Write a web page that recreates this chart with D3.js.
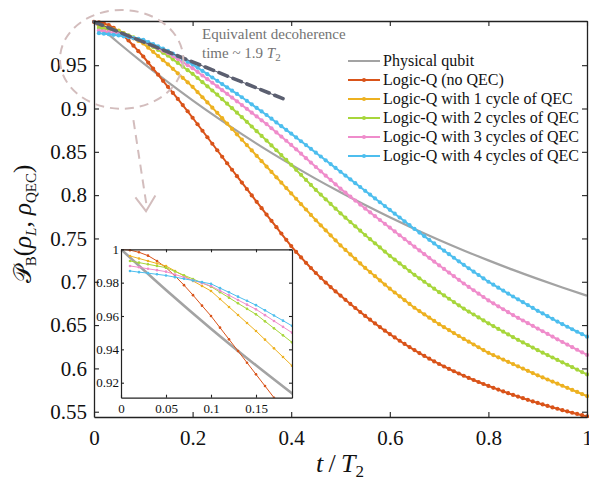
<!DOCTYPE html>
<html><head><meta charset="utf-8">
<script src="https://cdn.jsdelivr.net/npm/d3@7"></script>
<style>
body{margin:0;background:#fff}
svg{display:block}
svg text{font-family:"Liberation Serif","Times New Roman","Nimbus Roman","DejaVu Serif",serif !important}
svg text tspan.scr{font-family:"DejaVu Serif","DejaVu Sans",serif !important}
</style>
</head><body>
<svg id="c" width="589" height="481"></svg>
<script>
// ---------- data ----------
const seriesNames = ["Physical qubit","Logic-Q (no QEC)","Logic-Q with 1 cycle of QEC","Logic-Q with 2 cycles of QEC","Logic-Q with 3 cycles of QEC","Logic-Q with 4 cycles of QEC"];
const seriesColors = ["#a3a3a3","#d95319","#edb120","#a7d63b","#ef8ccb","#4dbeee"];
const xTicks = [0,0.2,0.4,0.6,0.8,1];
const yTicks = [0.55,0.6,0.65,0.7,0.75,0.8,0.85,0.9,0.95];
const insetXTicks = [0,0.05,0.1,0.15];
const insetYTicks = [0.92,0.94,0.96,0.98,1];

const tGray = [0,0.05,0.1,0.15,0.2,0.25,0.3,0.35,0.4,0.45,0.5,0.55,0.6,0.65,0.7,0.75,0.8,0.85,0.9,0.95,1];
const physical = [1.0,0.9756,0.9524,0.9304,0.9094,0.8894,0.8704,0.8523,0.8352,0.8188,0.8033,0.7885,0.7744,0.7610,0.7483,0.7362,0.7247,0.7137,0.7033,0.6934,0.6839];

const tRed = d3.range(0,101).map(i => i/100);
const tQEC = d3.range(1,101).map(i => i/100);

const noQEC = [1.0000,.9995,.9982,.9962,.9930,.9890,.9840,.9785,.9725,.9662,
.9600,.9530,.9460,.9390,.9320,.9250,.9180,.9110,.9040,.8968,
.8893,.8818,.8743,.8668,.8593,.8518,.8443,.8368,.8293,.8219,
.8145,.8071,.7997,.7923,.7849,.7776,.7703,.7630,.7557,.7484,
.7412,.7345,.7281,.7219,.7159,.7101,.7045,.6991,.6939,.6889,
.6841,.6792,.6744,.6697,.6651,.6606,.6562,.6519,.6477,.6436,
.6396,.6357,.6319,.6282,.6246,.6211,.6177,.6144,.6112,.6081,
.6051,.6022,.5994,.5967,.5941,.5915,.5890,.5866,.5843,.5820,
.5798,.5776,.5755,.5734,.5714,.5694,.5675,.5656,.5637,.5619,
.5601,.5584,.5567,.5550,.5534,.5518,.5503,.5488,.5474,.5460,.5446];

const qec1 = [.9960,.9945,.9930,.9915,.9900,.9870,.9840,.9810,.9780,.9750,
.9702,.9654,.9606,.9558,.9510,.9458,.9406,.9354,.9302,.9250,
.9190,.9130,.9070,.9010,.8950,.8888,.8826,.8764,.8702,.8640,
.8578,.8516,.8454,.8392,.8330,.8268,.8206,.8144,.8082,.8020,
.7958,.7896,.7834,.7772,.7710,.7652,.7594,.7536,.7478,.7420,
.7368,.7316,.7264,.7212,.7160,.7112,.7064,.7016,.6968,.6920,
.6876,.6832,.6788,.6744,.6700,.6662,.6624,.6586,.6548,.6510,
.6476,.6442,.6408,.6374,.6340,.6308,.6276,.6244,.6212,.6180,
.6154,.6128,.6102,.6076,.6050,.6024,.5998,.5972,.5946,.5920,
.5896,.5872,.5848,.5824,.5800,.5776,.5752,.5728,.5704,.5680];

const qec2 = [.9930,.9920,.9910,.9900,.9890,.9867,.9844,.9822,.9799,.9776,
.9743,.9710,.9676,.9643,.9610,.9568,.9526,.9484,.9442,.9400,
.9352,.9304,.9256,.9208,.9160,.9108,.9056,.9004,.8952,.8900,
.8846,.8792,.8738,.8684,.8630,.8574,.8518,.8462,.8406,.8350,
.8292,.8234,.8176,.8118,.8060,.8006,.7952,.7898,.7844,.7790,
.7740,.7690,.7640,.7590,.7540,.7492,.7444,.7396,.7348,.7300,
.7256,.7212,.7168,.7124,.7080,.7040,.7000,.6960,.6920,.6880,
.6842,.6804,.6766,.6728,.6690,.6656,.6622,.6588,.6554,.6520,
.6488,.6456,.6424,.6392,.6360,.6330,.6300,.6270,.6240,.6210,
.6182,.6154,.6126,.6098,.6070,.6042,.6014,.5986,.5958,.5930];

const qec3 = [.9900,.9892,.9883,.9875,.9866,.9849,.9832,.9814,.9797,.9780,
.9752,.9724,.9696,.9668,.9640,.9605,.9570,.9535,.9500,.9465,
.9423,.9381,.9339,.9297,.9255,.9212,.9169,.9126,.9083,.9040,
.8996,.8952,.8908,.8864,.8820,.8772,.8724,.8676,.8628,.8580,
.8529,.8478,.8427,.8376,.8325,.8275,.8225,.8175,.8125,.8075,
.8029,.7983,.7937,.7891,.7845,.7801,.7757,.7713,.7669,.7625,
.7581,.7537,.7493,.7449,.7405,.7362,.7319,.7276,.7233,.7190,
.7148,.7106,.7064,.7022,.6980,.6941,.6902,.6863,.6824,.6785,
.6751,.6717,.6683,.6649,.6615,.6584,.6553,.6522,.6491,.6460,
.6429,.6398,.6367,.6336,.6305,.6275,.6245,.6215,.6185,.6155];

const qec4 = [.9870,.9863,.9857,.9850,.9843,.9833,.9823,.9813,.9803,.9793,
.9767,.9742,.9716,.9691,.9665,.9634,.9603,.9572,.9541,.9510,
.9472,.9434,.9396,.9358,.9320,.9282,.9244,.9206,.9168,.9130,
.9089,.9048,.9007,.8966,.8925,.8882,.8839,.8796,.8753,.8710,
.8666,.8622,.8578,.8534,.8490,.8446,.8402,.8358,.8314,.8270,
.8226,.8182,.8138,.8094,.8050,.8006,.7962,.7918,.7874,.7830,
.7786,.7742,.7698,.7654,.7610,.7568,.7526,.7484,.7442,.7400,
.7359,.7318,.7277,.7236,.7195,.7156,.7117,.7078,.7039,.7000,
.6966,.6932,.6898,.6864,.6830,.6797,.6764,.6731,.6698,.6665,
.6634,.6603,.6572,.6541,.6510,.6481,.6452,.6423,.6395,.6366];

// equivalent decoherence reference line (t, value)
const decoT = [0, 0.385];
const decoV = [1.0, 0.911];

// ---------- build ----------
const svg = d3.select("#c");
const x = d3.scaleLinear([0,1],[94,587]);
const y = d3.scaleLinear([0.5439,1.001],[417,21]);

const zip = (ts, vs) => ts.map((t,i)=>({t, v: vs[i]}));
const series = [
  {name: seriesNames[0], color: seriesColors[0], data: zip(tGray, physical), marker:false},
  {name: seriesNames[1], color: seriesColors[1], data: zip(tRed, noQEC), marker:true},
  {name: seriesNames[2], color: seriesColors[2], data: zip(tQEC, qec1), marker:true},
  {name: seriesNames[3], color: seriesColors[3], data: zip(tQEC, qec2), marker:true},
  {name: seriesNames[4], color: seriesColors[4], data: zip(tQEC, qec3), marker:true},
  {name: seriesNames[5], color: seriesColors[5], data: zip(tQEC, qec4), marker:true}
];

const defs = svg.append("defs");
defs.append("clipPath").attr("id","mainClip").append("rect")
  .attr("x", 92).attr("y", 19).attr("width", 497).attr("height", 399);

const plot = svg.append("g").attr("clip-path","url(#mainClip)");
series.forEach(s => {
  const line = d3.line().x(d=>x(d.t)).y(d=>y(d.v)).curve(s.marker ? d3.curveLinear : d3.curveMonotoneX);
  plot.append("path").datum(s.data).attr("d", line)
    .attr("fill","none").attr("stroke", s.color).attr("stroke-width", s.marker ? 2 : 2.2);
  if (s.marker) {
    plot.append("g").selectAll("circle").data(s.data).join("circle")
      .attr("cx", d=>x(d.t)).attr("cy", d=>y(d.v)).attr("r", 2.1).attr("fill", s.color);
  }
});

// decoherence reference dashed line
const decoData = zip(decoT, decoV);
const decoLine = d3.line().x(d=>x(d.t)).y(d=>y(d.v));
plot.append("path").datum(decoData).attr("d", decoLine)
  .attr("fill","none").attr("stroke","#5b5f70").attr("stroke-width",1);
plot.append("path").datum(decoData).attr("d", decoLine)
  .attr("fill","none").attr("stroke","#5b5f70").attr("stroke-width",3.6)
  .attr("stroke-dasharray","9,6").attr("stroke-linecap","round");

// axes (ticks inward on all four sides)
const axB = d3.axisBottom(x).tickValues(xTicks).tickSizeInner(-5).tickSizeOuter(0).tickPadding(13).tickFormat(d3.format("~g"));
const axT = d3.axisTop(x).tickValues(xTicks).tickSizeInner(-5).tickSizeOuter(0).tickFormat("");
const axL = d3.axisLeft(y).tickValues(yTicks).tickSizeInner(-5).tickSizeOuter(0).tickPadding(7).tickFormat(d3.format("~g"));
const axR = d3.axisRight(y).tickValues(yTicks).tickSizeInner(-5).tickSizeOuter(0).tickFormat("");

function styleAxis(g, fs){
  g.attr("font-family", null);
  g.selectAll("path.domain").attr("stroke","#222").attr("stroke-width",1.3);
  g.selectAll(".tick line").attr("stroke","#222").attr("stroke-width",1.1);
  g.selectAll("text").attr("font-size",fs).attr("fill","#111");
}
svg.append("g").attr("transform","translate(0,417)").call(axB).call(g=>styleAxis(g,21));
svg.append("g").attr("transform","translate(0,21)").call(axT).call(g=>styleAxis(g,21));
svg.append("g").attr("transform","translate(94,0)").call(axL).call(g=>styleAxis(g,21));
svg.append("g").attr("transform","translate(587,0)").call(axR).call(g=>styleAxis(g,21));

// dashed ellipse + arrow annotation (positioned in data space)
const ann = svg.append("g").attr("stroke","#d3bdbd").attr("fill","none").attr("stroke-width",2).attr("stroke-dasharray","9,6");
ann.append("ellipse").attr("cx", x(0.056)).attr("cy", y(0.9567))
  .attr("rx", x(0.056+0.125)-x(0.056)).attr("ry", y(0.9567-0.057)-y(0.9567));
ann.append("line").attr("x1", x(0.08)).attr("y1", y(0.8865)).attr("x2", x(0.1065)).attr("y2", y(0.7885));
svg.append("path").attr("fill","none").attr("stroke","#d3bdbd").attr("stroke-width",2)
  .attr("d", d3.line()([[x(0.084),y(0.7975)],[x(0.1055),y(0.7815)],[x(0.1245),y(0.7995)]]));

// annotation text
const at = svg.append("g").attr("fill","#737373").attr("font-size",15);
at.append("text").attr("x",202).attr("y",39).text("Equivalent decoherence");
const at2 = at.append("text").attr("x",202).attr("y",58);
at2.append("tspan").text("time ~ 1.9 ");
at2.append("tspan").attr("font-style","italic").text("T");
at2.append("tspan").attr("font-size",11).attr("dy",3).text("2");

// legend
const lg = svg.append("g");
series.forEach((s,i) => {
  const yy = 61 + i*19;
  lg.append("line").attr("x1",348).attr("x2",380).attr("y1",yy).attr("y2",yy)
    .attr("stroke", s.color).attr("stroke-width",2);
  if (s.marker) lg.append("circle").attr("cx",364).attr("cy",yy).attr("r",2).attr("fill",s.color);
  lg.append("text").attr("x",383).attr("y",yy).attr("dy","0.33em").attr("font-size",16).attr("fill","#111").text(s.name);
});

// ---------- inset ----------
const x2 = d3.scaleLinear([0,0.19],[121,292]);
const y2 = d3.scaleLinear([0.911,1.0],[397.7,249.3]);
const inset = svg.append("g");
inset.append("rect").attr("x",121).attr("y",249.3).attr("width",171).attr("height",148.4).attr("fill","#fff");
defs.append("clipPath").attr("id","insetClip").append("rect")
  .attr("x",121).attr("y",249.3).attr("width",171).attr("height",148.4);
const ip = inset.append("g").attr("clip-path","url(#insetClip)");
series.forEach(s => {
  const data = s.data.filter(d => d.t <= 0.2);
  const line = d3.line().x(d=>x2(d.t)).y(d=>y2(d.v)).curve(s.marker ? d3.curveLinear : d3.curveMonotoneX);
  ip.append("path").datum(data).attr("d", line).attr("fill","none")
    .attr("stroke", s.color).attr("stroke-width", s.marker ? 1 : 2.6);
  if (s.marker) {
    ip.append("g").selectAll("circle").data(data).join("circle")
      .attr("cx", d=>x2(d.t)).attr("cy", d=>y2(d.v)).attr("r",1.3).attr("fill", s.color);
  }
});
const iaB = d3.axisBottom(x2).tickValues(insetXTicks).tickSizeInner(-3).tickSizeOuter(0).tickPadding(6).tickFormat(d3.format("~g"));
const iaT = d3.axisTop(x2).tickValues(insetXTicks).tickSizeInner(-3).tickSizeOuter(0).tickFormat("");
const iaL = d3.axisLeft(y2).tickValues(insetYTicks).tickSizeInner(-3).tickSizeOuter(0).tickPadding(2).tickFormat(d3.format("~g"));
const iaR = d3.axisRight(y2).tickValues(insetYTicks).tickSizeInner(-3).tickSizeOuter(0).tickFormat("");
inset.append("g").attr("transform","translate(0,397.7)").call(iaB).call(g=>styleAxis(g,13));
inset.append("g").attr("transform","translate(0,249.3)").call(iaT).call(g=>styleAxis(g,13));
inset.append("g").attr("transform","translate(121,0)").call(iaL).call(g=>styleAxis(g,13));
inset.append("g").attr("transform","translate(292,0)").call(iaR).call(g=>styleAxis(g,13));
inset.selectAll("path.domain").attr("stroke-width",1.2);

// ---------- axis labels ----------
const xl = svg.append("text").attr("x",340).attr("y",472).attr("text-anchor","middle").attr("font-size",26).attr("fill","#111");
xl.append("tspan").attr("font-style","italic").text("t");
xl.append("tspan").text("\u2009/\u2009");
xl.append("tspan").attr("font-style","italic").text("T");
xl.append("tspan").attr("font-size",17).attr("dy",5).text("2");

const yl = svg.append("text").attr("transform","translate(31,224) rotate(-90)").attr("text-anchor","middle").attr("font-size",25).attr("fill","#111");
yl.append("tspan").attr("class","scr").attr("font-size",24).text("\u{1D4AB}");
yl.append("tspan").attr("font-size",15).attr("dy",5).text("B");
yl.append("tspan").attr("dy",-5).text("(");
yl.append("tspan").attr("font-style","italic").text("\u03C1");
yl.append("tspan").attr("font-style","italic").attr("font-size",15).attr("dy",5).text("L");
yl.append("tspan").attr("dy",-5).text(", ");
yl.append("tspan").attr("font-style","italic").text("\u03C1");
yl.append("tspan").attr("font-size",15).attr("dy",5).text("QEC");
yl.append("tspan").attr("dy",-5).text(")");
</script>
</body></html>
